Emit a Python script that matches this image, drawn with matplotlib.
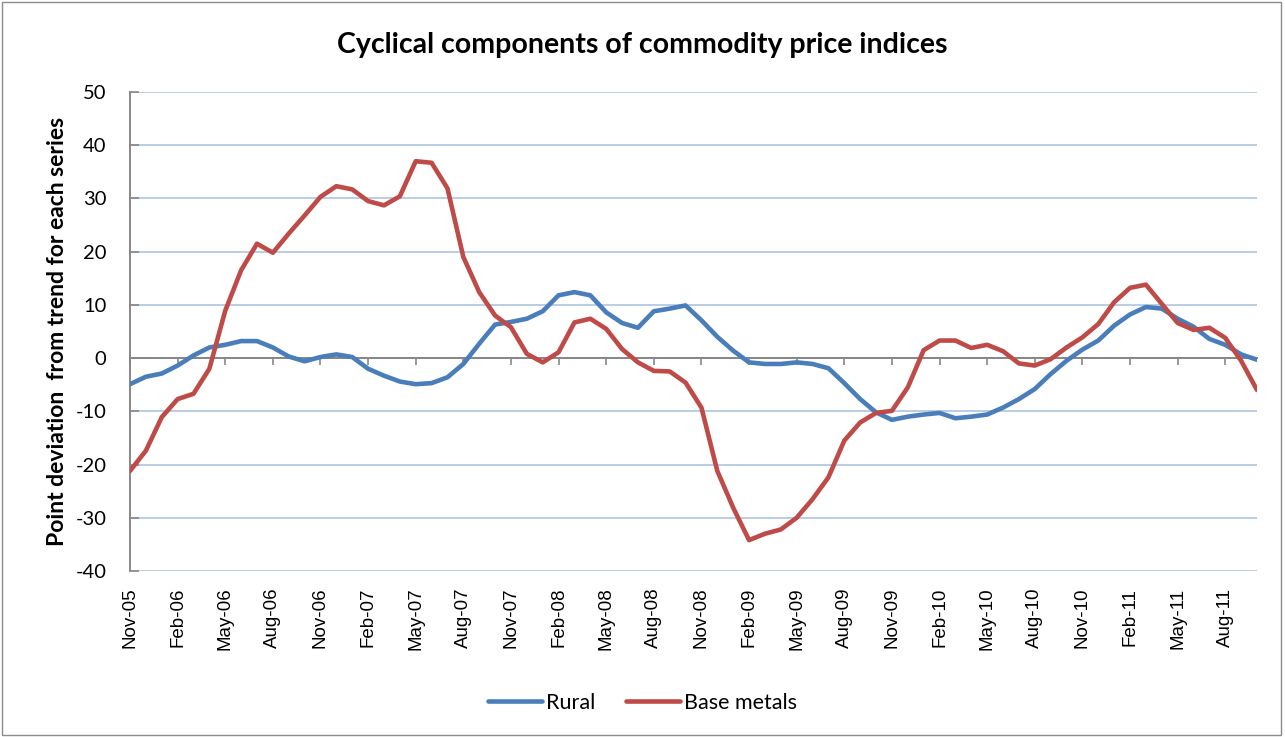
import numpy as np
import pandas as pd
import matplotlib
matplotlib.use("Agg")
import matplotlib.pyplot as plt
from matplotlib.patches import Rectangle

# monthly data, Nov-05 .. Oct-11
months = pd.date_range("2005-11-01", periods=72, freq="MS")
month_labels = [d.strftime("%b-%y") for d in months]

rural = [-4.9, -3.5, -2.9, -1.4, 0.5, 2.0, 2.5, 3.2, 3.2, 2.0, 0.3, -0.6,
         0.2, 0.7, 0.2, -2.0, -3.3, -4.4, -4.9, -4.7, -3.6, -1.1, 2.7, 6.3,
         6.8, 7.4, 8.8, 11.8, 12.4, 11.8, 8.6, 6.6, 5.7, 8.8, 9.3, 9.9,
         7.1, 4.0, 1.4, -0.8, -1.1, -1.1, -0.8, -1.1, -1.9, -4.7, -7.7, -10.2,
         -11.6, -11.0, -10.6, -10.3, -11.3, -11.0, -10.6, -9.3, -7.7, -5.8, -3.0, -0.5,
         1.6, 3.3, 6.1, 8.2, 9.6, 9.3, 7.4, 5.9, 3.6, 2.5, 0.7, -0.3]

base_metals = [-21.2, -17.4, -11.1, -7.7, -6.7, -2.0, 8.9, 16.5, 21.5, 19.8, 23.4, 26.8,
               30.3, 32.3, 31.7, 29.5, 28.7, 30.4, 37.0, 36.7, 31.9, 19.0, 12.4, 8.0,
               5.8, 0.8, -0.8, 1.1, 6.7, 7.4, 5.5, 1.7, -0.8, -2.4, -2.5, -4.6,
               -9.3, -21.2, -28.1, -34.2, -33.0, -32.2, -30.0, -26.5, -22.4, -15.5, -12.1, -10.3,
               -9.9, -5.5, 1.5, 3.3, 3.3, 1.9, 2.5, 1.3, -1.0, -1.4, -0.2, 2.0,
               3.9, 6.4, 10.5, 13.2, 13.8, 10.2, 6.6, 5.3, 5.7, 3.8, -0.5, -6.0]

y_ticks = [-40, -30, -20, -10, 0, 10, 20, 30, 40, 50]

plt.rcParams['font.family'] = ['Lato', 'DejaVu Sans']
plt.rcParams['axes.unicode_minus'] = False
GRAY = '#878787'

fig = plt.figure(figsize=(12.85, 7.37), dpi=100)
ax = fig.add_axes([130 / 1285, 1 - 571 / 737, 1127 / 1285, 479 / 737])

x = np.arange(len(months))
ax.plot(x, rural, color='#4A7EBB', lw=3.3, solid_joinstyle='round',
        solid_capstyle='round', label='Rural', zorder=3)
ax.plot(x, base_metals, color='#BE4B48', lw=3.3, solid_joinstyle='round',
        solid_capstyle='round', label='Base metals', zorder=3)

ax.set_xlim(0, len(months) - 1)
ax.set_ylim(-40, 50)
ax.set_yticks(y_ticks)
ax.yaxis.grid(True, color='#B9CDE5', lw=1.4)
ax.set_axisbelow(True)

for s in ['top', 'right']:
    ax.spines[s].set_visible(False)
ax.spines['left'].set_color(GRAY)
ax.spines['left'].set_linewidth(1.4)
ax.spines['bottom'].set_position(('data', 0))
ax.spines['bottom'].set_color(GRAY)
ax.spines['bottom'].set_linewidth(1.4)
ax.spines['bottom'].set_zorder(2)

tick_pos = x[::3]
ax.set_xticks(tick_pos)
ax.tick_params(axis='x', direction='out', length=5, width=1.2, color=GRAY,
               labelbottom=False)
ax.tick_params(axis='y', direction='in', length=6.5, width=1.2, color=GRAY,
               labelsize=14.5, pad=17)

# category labels sit at the bottom of the plot area
sec = ax.secondary_xaxis('bottom')
sec.set_xticks(tick_pos, [month_labels[i] for i in tick_pos], rotation=90,
               family=['Liberation Sans', 'DejaVu Sans'], fontsize=13.5)
sec.tick_params(length=0, pad=12)
sec.spines['bottom'].set_visible(False)

ax.set_ylabel("Point deviation  from trend for each series", fontsize=16.5,
              fontweight='bold', labelpad=5)
fig.text(0.5, 1 - 45 / 737, "Cyclical components of commodity price indices",
         ha='center', va='center', fontsize=20.5, fontweight='bold')

fig.legend(loc='center', bbox_to_anchor=(0.5, 1 - 703 / 737), ncol=2,
           frameon=False, fontsize=15.5, handlelength=2.5, handletextpad=0.2,
           columnspacing=1.4)

fig.add_artist(Rectangle((2 / 1285, 2 / 737), 1279 / 1285, 733 / 737,
                         transform=fig.transFigure, fill=False,
                         edgecolor='#8C8C8C', lw=1))

fig.savefig("out.png", dpi=100)
